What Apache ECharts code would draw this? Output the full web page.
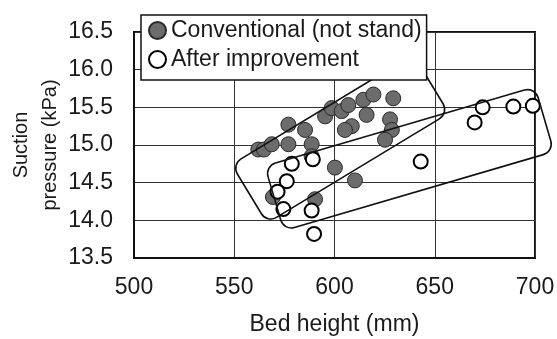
<!DOCTYPE html>
<html>
<head>
<meta charset="utf-8">
<script src="https://cdn.jsdelivr.net/npm/echarts@6/dist/echarts.min.js"></script>
<style>
html,body{margin:0;padding:0;background:#fff;}
#chart{width:557px;height:339px;}
</style>
</head>
<body>
<div id="chart"></div>
<script>
// ---- data ----
const seriesNames = ['Conventional (not stand)', 'After improvement'];
const xTicks = [500, 550, 600, 650, 700];
const yTicks = [13.5, 14.0, 14.5, 15.0, 15.5, 16.0, 16.5];
const conventionalX = [577.0, 585.3, 562.0, 564.8, 568.7, 577.0, 588.6, 588.6, 595.3, 598.6, 603.6, 606.9, 608.6, 605.2, 614.4, 619.4, 629.3, 616.0, 627.7, 628.6, 625.2, 600.2, 610.2, 590.3, 569.3];
const conventionalY = [15.27, 15.20, 14.94, 14.94, 15.01, 15.01, 15.01, 14.85, 15.38, 15.49, 15.45, 15.53, 15.25, 15.20, 15.60, 15.67, 15.62, 15.40, 15.34, 15.20, 15.07, 14.70, 14.53, 14.28, 14.31];
const improvedX = [578.7, 589.2, 576.2, 571.6, 574.5, 588.6, 589.8, 643.0, 669.9, 673.9, 689.2, 698.9];
const improvedY = [14.75, 14.81, 14.52, 14.38, 14.15, 14.13, 13.82, 14.78, 15.30, 15.50, 15.51, 15.52];
// enclosing rounded boxes, as three corners in data units: start, end of long side, end of short side
const boxConventional = [[548.7, 14.74], [639.3, 16.20], [566.2, 13.96]];
const boxImproved = [[565.3, 14.72], [700.0, 15.77], [572.8, 13.85]];

const FONT = '"Liberation Sans", Arial, sans-serif';
const chart = echarts.init(document.getElementById('chart'), null, {renderer: 'canvas'});

const zip = (xs, ys) => xs.map((x, i) => [x, ys[i]]);

chart.setOption({
  animation: false,
  backgroundColor: '#fff',
  textStyle: {fontFamily: FONT, color: '#1a1a1a'},
  grid: {left: 134, right: 22, top: 32, bottom: 81, outerBoundsMode: 'none', containLabel: false,
         show: true, borderColor: '#111', borderWidth: 2, backgroundColor: 'transparent'},
  legend: {
    orient: 'vertical', left: 141, top: 15,
    backgroundColor: '#fff', borderColor: '#111', borderWidth: 1.5,
    padding: [4, 5, 9, 7], itemGap: 6, itemWidth: 17, itemHeight: 17,
    icon: 'circle',
    textStyle: {fontSize: 23, fontFamily: FONT, color: '#1a1a1a'},
    data: seriesNames, z: 20
  },
  xAxis: {
    type: 'value', min: xTicks[0], max: xTicks[xTicks.length - 1], interval: 50,
    name: 'Bed height (mm)', nameLocation: 'middle', nameGap: 55, nameMoveOverlap: false,
    nameTextStyle: {fontSize: 23, fontFamily: FONT, color: '#1a1a1a'},
    axisLine: {show: true, lineStyle: {color: '#111', width: 2}},
    axisTick: {show: false},
    axisLabel: {fontSize: 23, fontFamily: FONT, color: '#1a1a1a', margin: 18, formatter: v => String(v)},
    splitLine: {show: true, lineStyle: {color: '#333', width: 1}}
  },
  yAxis: {
    type: 'value', min: yTicks[0], max: yTicks[yTicks.length - 1], interval: 0.5,
    name: 'Suction\npressure (kPa)', nameLocation: 'middle', nameGap: 69, nameRotate: 90, nameMoveOverlap: false,
    nameTextStyle: {fontSize: 20, fontFamily: FONT, color: '#1a1a1a', lineHeight: 29},
    axisLine: {show: true, lineStyle: {color: '#111', width: 2}},
    axisTick: {show: false},
    axisLabel: {fontSize: 23, fontFamily: FONT, color: '#1a1a1a', margin: 21, formatter: v => v.toFixed(1)},
    splitLine: {show: true, lineStyle: {color: '#333', width: 1}}
  },
  series: [
    {
      name: seriesNames[0], type: 'scatter', symbol: 'circle', symbolSize: 15,
      itemStyle: {color: '#6c6c6c', borderColor: '#2a2a2a', borderWidth: 1, opacity: 1},
      data: zip(conventionalX, conventionalY), z: 3
    },
    {
      name: seriesNames[1], type: 'scatter', symbol: 'circle', symbolSize: 14,
      itemStyle: {color: '#fff', borderColor: '#000', borderWidth: 2, opacity: 1},
      data: zip(improvedX, improvedY), z: 4
    }
  ]
});

function boxGraphic(corners) {
  const p = corners.map(c => chart.convertToPixel({gridIndex: 0}, c));
  const [a, b, c] = p;
  const w = Math.hypot(b[0] - a[0], b[1] - a[1]);
  const h = Math.hypot(c[0] - a[0], c[1] - a[1]);
  const rot = Math.atan2(a[1] - b[1], b[0] - a[0]);
  return {
    type: 'rect', x: a[0], y: a[1], rotation: rot, z: 10,
    shape: {x: 0, y: 0, width: w, height: h, r: 11},
    style: {fill: 'none', stroke: '#111', lineWidth: 1.6}
  };
}

chart.setOption({graphic: [boxGraphic(boxConventional), boxGraphic(boxImproved)]});
</script>
</body>
</html>
